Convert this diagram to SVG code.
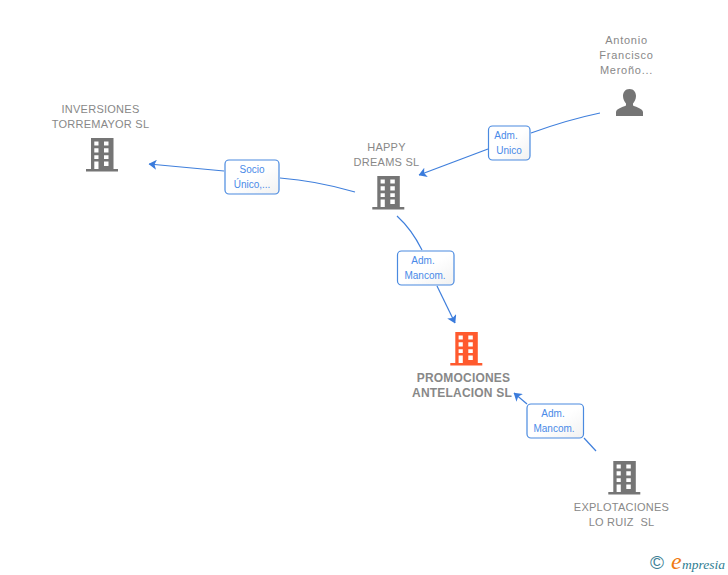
<svg xmlns="http://www.w3.org/2000/svg" width="728" height="575" viewBox="0 0 728 575">
<style>
text{font-family:"Liberation Sans",Arial,sans-serif}
.n{font-size:11px;fill:#888;text-anchor:middle;letter-spacing:.25px;white-space:pre}
.w{letter-spacing:.75px}
.b{font-size:12px;font-weight:bold;fill:#888;text-anchor:middle;letter-spacing:.2px}
.l{font-size:10px;fill:#4a8ae8;text-anchor:middle}
.e{fill:none;stroke:#3f7fdc;stroke-width:1.2}
.box{fill:url(#bg);stroke:#4a8ae0;stroke-width:1.2}
</style>
<defs>
<linearGradient id="bg" x1="0" y1="0" x2="1" y2="1"><stop offset="0" stop-color="#fff"/><stop offset=".5" stop-color="#fff"/><stop offset="1" stop-color="#f1f1f1"/></linearGradient>
<marker id="a" viewBox="0 0 8 10" refX="7.500" refY="5" markerWidth="8" markerHeight="10" markerUnits="userSpaceOnUse" orient="auto"><path d="M0 0L8 5L0 10L2 5z" fill="#3a7bdc"/></marker>
<g id="bld">
<path fill-rule="evenodd" d="M5 0H27.500V31H32V33.500H0V31H5ZM8.300 3.500V7.500H12.500V3.500ZM18 3.500V7.500H22.500V3.500ZM8.300 10.300V14.500H12.500V10.300ZM18 10.300V14.500H22.500V10.300ZM8.300 17.200V21H12.500V17.200ZM18 17.200V21H22.500V17.200ZM8.300 23.500V31H12.500V23.500ZM18 23.500V28H22.500V23.500Z"/>
</g>
</defs>
<rect width="728" height="575" fill="#fff"/>
<g id="connectors">
<path class="e" d="M600 113C576 118 553 125 531 133"/>
<path class="e" d="M488 149L419 175" marker-end="url(#a)"/>
<path class="e" d="M355 192C331 185 306 180 280 178"/>
<path class="e" d="M224 171L149 164" marker-end="url(#a)"/>
<path class="e" d="M397 216C408 226 416 238 422 250"/>
<path class="e" d="M437 286L455 323" marker-end="url(#a)"/>
<path class="e" d="M596 451L584 438"/>
<path class="e" d="M527 404L514 393" marker-end="url(#a)"/>
</g>
<g id="n-inversiones">
<text class="n" x="100.500" y="113">INVERSIONES</text>
<text class="n" x="100.500" y="128">TORREMAYOR SL</text>
<use href="#bld" x="86" y="138" fill="#757575"/>
</g>
<g id="n-happy">
<text class="n" x="386.500" y="151">HAPPY</text>
<text class="n" x="386.500" y="166">DREAMS SL</text>
<use href="#bld" x="372.300" y="176" fill="#757575"/>
</g>
<g id="n-antonio">
<text class="n w" x="626.500" y="44">Antonio</text>
<text class="n w" x="626.500" y="59">Francisco</text>
<text class="n w" x="626.500" y="74">Meroño...</text>
<path fill="#757575" d="M629.500 89C625 89 623 92.500 623 96C623 99 624.500 102 626 103.500V105.500C622 107.500 616.500 108.500 616 112V116H643V112C642.500 108.500 637 107.500 633 105.500V103.500C634.500 102 636 99 636 96C636 92.500 634 89 629.500 89Z"/>
</g>
<g id="n-promociones">
<use href="#bld" x="450.300" y="332" fill="#ff5a2e"/>
<text class="b" x="463.500" y="382">PROMOCIONES</text>
<text class="b" x="462" y="397">ANTELACION SL</text>
</g>
<g id="n-explotaciones">
<use href="#bld" x="608.300" y="461" fill="#757575"/>
<text class="n" x="621.500" y="511">EXPLOTACIONES</text>
<text class="n" x="621.500" y="526">LO RUIZ  SL</text>
</g>
<g id="lb-socio">
<rect class="box" x="225" y="160" width="54" height="34" rx="4"/>
<text class="l" x="252" y="173">Socio</text>
<text class="l" x="252" y="188">Único,...</text>
</g>
<g id="lb-unico">
<rect class="box" x="488.500" y="126" width="41.500" height="34" rx="4"/>
<text class="l" x="506" y="139">Adm.</text>
<text class="l" x="509" y="154">Unico</text>
</g>
<g id="lb-mancom1">
<rect class="box" x="397.500" y="251" width="56.500" height="34" rx="4"/>
<text class="l" x="423" y="264">Adm.</text>
<text class="l" x="425" y="279">Mancom.</text>
</g>
<g id="lb-mancom2">
<rect class="box" x="527" y="404" width="56.500" height="34" rx="4"/>
<text class="l" x="553" y="417">Adm.</text>
<text class="l" x="554" y="432">Mancom.</text>
</g>
<g id="logo">
<text x="650" y="569" font-size="19" style="fill:#3d7f96">©</text>
<text x="671" y="569" font-size="24" font-style="italic" style="font-family:'Liberation Serif',serif;fill:#f07a12">e</text>
<text x="682" y="569" font-size="13.500" font-style="italic" style="font-family:'Liberation Serif',serif;fill:#2f7d92">mpresia</text>
</g>
</svg>
